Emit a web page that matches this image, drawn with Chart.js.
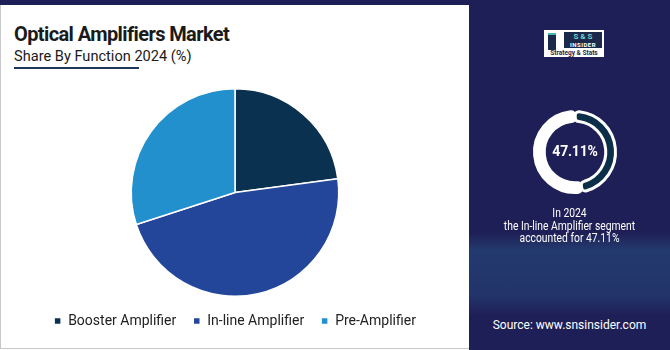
<!DOCTYPE html>
<html>
<head>
<meta charset="utf-8">
<script src="https://cdn.jsdelivr.net/npm/chart.js@4.4.0/dist/chart.umd.min.js"></script>
<style>
    body { margin: 0; width: 670px; height: 350px; background: #fff; font-family: Roboto, sans-serif; overflow: hidden; }
    #wrap { position: relative; width: 670px; height: 350px; }
    #topbar { position: absolute; left: 0; top: 0; width: 670px; height: 5px; background: #1f1f57; }
    #card { position: absolute; left: 0; top: 5px; width: 468px; height: 343px; border-left: 1px solid #c8c8c8; border-bottom: 1px solid #c8c8c8; background: #fff; }
    #judul { position: absolute; left: 13px; top: 17px; font-size: 20px; font-weight: 700; color: #1a1a1a; letter-spacing: -0.6px; }
    #sub { position: absolute; left: 13px; top: 42px; font-size: 14.6px; color: #1a1a1a; }
    #garis { position: absolute; left: 13px; top: 62px; width: 125px; height: 2px; background: #1d3557; }
    #pie-box { position: absolute; left: 1px; top: 80px; width: 468px; height: 276px; }
    #panel { position: absolute; left: 469px; top: 5px; width: 201px; height: 345px;
        background: linear-gradient(to bottom, #1f1f57 0%, #1f1f57 66%, #233a6e 71%, #22346a 84%, #1f1f57 90%, #1f1f57 100%); }
    #logo { position: absolute; left: 75px; top: 25px; width: 60px; height: 27px; background: #fff; }
    #logo .tower { position: absolute; left: 4px; top: 3px; width: 8px; height: 15px; background: #1b2a4a; border-top: 2px solid #3fb9b4; }
    #logo .ss { position: absolute; left: 20px; top: 2px; width: 38px; height: 9px; background: #1b2a4a; color: #6fd3d0; font-size: 8px; font-weight: 700; line-height: 9px; text-align: center; }
    #logo .ins { position: absolute; left: 20px; top: 11px; width: 38px; height: 7px; background: #1b2a4a; color: #fff; font-size: 6px; font-weight: 700; line-height: 7px; text-align: center; letter-spacing: 0.5px; }
    #logo .st { position: absolute; left: 1px; top: 19px; width: 58px; color: #1b2a4a; font-size: 6.5px; font-weight: 700; text-align: center; line-height: 8px; }
    #ring-box { position: absolute; left: 61px; top: 102px; width: 90px; height: 90px; }
    #ring-val { position: absolute; left: 61px; top: 138px; width: 90px; text-align: center; color: #fff; font-size: 14px; font-weight: 700; letter-spacing: -0.2px; }
    #ring-txt { position: absolute; left: 0; top: 202px; width: 201px; text-align: center; color: #fff; font-size: 12px; line-height: 12.5px; transform: scaleX(0.86); }
    #sumber { position: absolute; left: 0; top: 313px; width: 201px; text-align: center; color: #fff; font-size: 12px; }
</style>
</head>
<body>
<div id="wrap">
    <div id="topbar"></div>
    <div id="card">
        <div id="judul">Optical Amplifiers Market</div>
        <div id="sub">Share By Function 2024 (%)</div>
        <div id="garis"></div>
    </div>
    <div id="pie-box"><canvas id="pie"></canvas></div>
    <div id="panel">
        <div id="logo">
            <div class="tower"></div>
            <div class="ss">S &amp; S</div>
            <div class="ins">INSIDER</div>
            <div class="st">Strategy &amp; Stats</div>
        </div>
        <div id="ring-box"><canvas id="ring"></canvas></div>
        <div id="ring-val">47.11%</div>
        <div id="ring-txt">In 2024<br>the In-line Amplifier segment<br>accounted for 47.11%</div>
        <div id="sumber">Source: www.snsinsider.com</div>
    </div>
</div>
<script>
// data pie
var kategori = ['Booster Amplifier', 'In-line Amplifier', 'Pre-Amplifier'];
var nilai = [22.89, 47.11, 30.0];
var warna = ['#0b3150', '#24469a', '#2190cc'];

// data ring kanan
var ringLabel = ['In-line Amplifier', 'Lainnya'];
var ringNilai = [47.11, 52.89];

Chart.defaults.font.family = 'Roboto, sans-serif';
Chart.defaults.animation = false;

// Membuat pie
new Chart(document.getElementById('pie').getContext('2d'), {
    type: 'pie',
    data: {
        labels: kategori,
        datasets: [
            {
                data: nilai,
                backgroundColor: warna,
                borderColor: '#ffffff',
                borderWidth: 1.5
            }
        ]
    },
    options: {
        responsive: true,
        maintainAspectRatio: false,
        layout: {
            padding: { top: 8, bottom: 18 }
        },
        plugins: {
            legend: {
                position: 'bottom',
                labels: {
                    boxWidth: 7,
                    boxHeight: 7,
                    padding: 17,
                    color: '#222',
                    font: { size: 14 }
                }
            },
            tooltip: { enabled: false }
        }
    }
});

// Membuat ring persentase
new Chart(document.getElementById('ring').getContext('2d'), {
    type: 'doughnut',
    data: {
        labels: ringLabel,
        datasets: [
            {
                data: ringNilai,
                backgroundColor: ['#0b2f48', '#ffffff'],
                borderColor: '#ffffff',
                borderWidth: 3,
                borderRadius: 4
            }
        ]
    },
    options: {
        responsive: true,
        maintainAspectRatio: false,
        cutout: '76%',
        layout: { padding: 3 },
        plugins: {
            legend: { display: false },
            tooltip: { enabled: false }
        }
    }
});
</script>
</body>
</html>
